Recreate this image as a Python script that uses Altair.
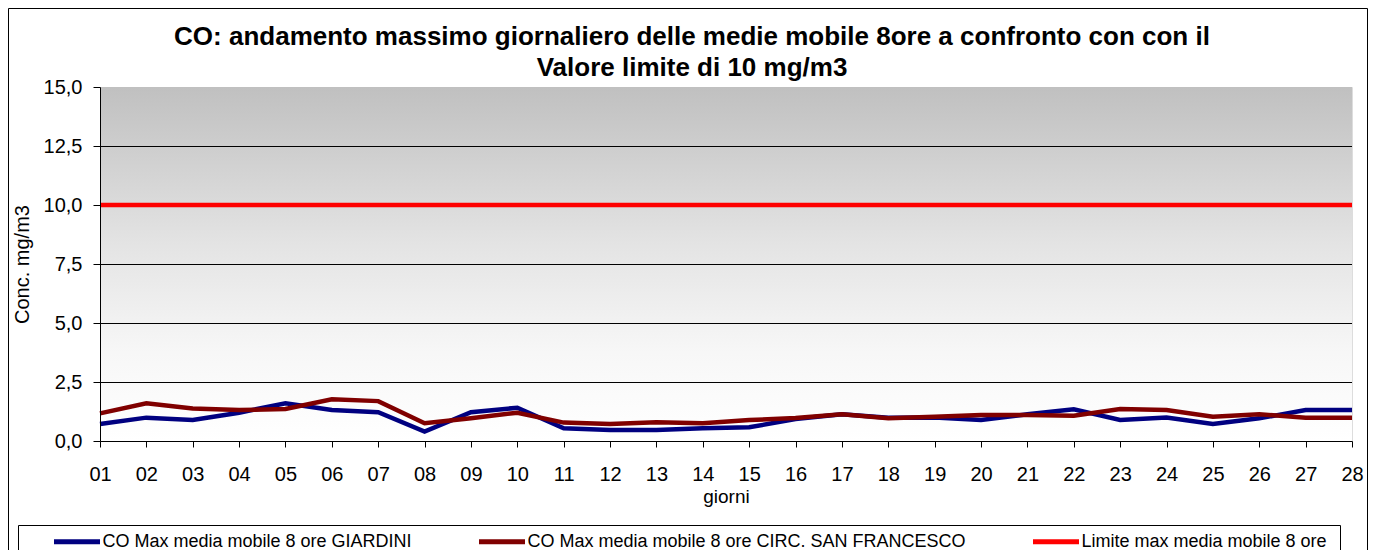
import altair as alt
import pandas as pd

# ---- data ----
DAYS = ["01", "02", "03", "04", "05", "06", "07", "08", "09", "10",
        "11", "12", "13", "14", "15", "16", "17", "18", "19", "20",
        "21", "22", "23", "24", "25", "26", "27", "28"]

GIARDINI = [0.72, 0.99, 0.89, 1.20, 1.60, 1.31, 1.22, 0.40, 1.22, 1.41,
            0.54, 0.47, 0.47, 0.54, 0.58, 0.93, 1.13, 0.99, 1.00, 0.89,
            1.13, 1.34, 0.89, 1.00, 0.72, 0.96, 1.31, 1.31]

SAN_FRANCESCO = [1.17, 1.60, 1.38, 1.31, 1.36, 1.77, 1.69, 0.75, 0.96, 1.20,
                 0.78, 0.72, 0.79, 0.75, 0.89, 0.97, 1.13, 0.96, 1.03, 1.10,
                 1.10, 1.07, 1.36, 1.31, 1.03, 1.13, 0.99, 0.99]

LIMITE = [10.0, 10.0, 10.0, 10.0, 10.0, 10.0, 10.0, 10.0, 10.0, 10.0,
          10.0, 10.0, 10.0, 10.0, 10.0, 10.0, 10.0, 10.0, 10.0, 10.0,
          10.0, 10.0, 10.0, 10.0, 10.0, 10.0, 10.0, 10.0]

SERIES = ["CO Max media mobile 8 ore GIARDINI",
          "CO Max media mobile 8 ore CIRC. SAN FRANCESCO",
          "Limite max media mobile 8 ore"]
COLORS = ["#000080", "#800000", "#FF0000"]

Y_TICKS = [0.0, 2.5, 5.0, 7.5, 10.0, 12.5, 15.0]
GRID = [2.5, 5.0, 7.5, 12.5]

TITLE_1 = "CO: andamento massimo giornaliero delle medie mobile 8ore a confronto con con il"
TITLE_2 = "Valore limite di 10 mg/m3"

# ---- long table ----
rows = []
for k, (name, vals) in enumerate(zip(SERIES, [GIARDINI, SAN_FRANCESCO, LIMITE])):
    for d, v in zip(DAYS, vals):
        rows.append({"giorno": d, "serie": name, "valore": v, "k": k})
df = pd.DataFrame(rows)

W, H = 1252, 354
PAD_L, PAD_T, PAD_R, PAD_B = 92, 79, 17, 109
BOTTOM = H + PAD_B  # svg bottom relative to plot origin

FONT = "Liberation Sans, Arial, sans-serif"

yscale = alt.Scale(domain=[0, 15], nice=False, zero=True)
xscale = alt.Scale(type="point", padding=0)

y_axis = alt.Axis(title="Conc. mg/m3", values=Y_TICKS,
                  labelExpr="replace(format(datum.value, '.1f'), '.', ',')",
                  tickSize=7, labelPadding=11, labelFontSize=20,
                  titleFontSize=20, titleFontWeight="normal",
                  titleX=-78, titleY=177, titleAngle=270, titleAlign="center",
                  titleBaseline="middle", domainColor="black", tickColor="black",
                  domainWidth=1, tickWidth=1,
                  labelColor="black", titleColor="black", grid=False, zindex=1,
                  labelFont=FONT, titleFont=FONT)

x_axis = alt.Axis(title="giorni", labelAngle=0, tickSize=6, labelPadding=17,
                  labelFontSize=20, titleFontSize=19, titleFontWeight="normal",
                  titlePadding=3, domainColor="black", tickColor="black",
                  domainWidth=1, tickWidth=1,
                  labelColor="black", titleColor="black", grid=False, zindex=1,
                  labelFont=FONT, titleFont=FONT)

# background gradient of the plot area
bg = alt.Chart(pd.DataFrame({"lo": [0.0], "hi": [15.0]})).mark_rect(
    color=alt.Gradient(
        gradient="linear",
        stops=[alt.GradientStop(color="#C0C0C0", offset=0),
               alt.GradientStop(color="#E4E4E4", offset=0.45),
               alt.GradientStop(color="#F7F7F7", offset=0.75),
               alt.GradientStop(color="#FFFFFF", offset=1)],
        x1=0, x2=0, y1=0, y2=1),
).encode(
    x=alt.value(0), x2=alt.value(W),
    y=alt.Y("hi:Q", scale=yscale, axis=y_axis), y2="lo:Q",
)

grid = alt.Chart(pd.DataFrame({"g": GRID})).mark_rule(
    color="black", strokeWidth=1, yOffset=0.5).encode(
    y=alt.Y("g:Q", scale=yscale, axis=y_axis),
    x=alt.value(0), x2=alt.value(W),
)

lines = alt.Chart(df).mark_line(strokeWidth=4.5).encode(
    x=alt.X("giorno:O", scale=xscale, sort=DAYS, axis=x_axis),
    y=alt.Y("valore:Q", scale=yscale, axis=y_axis),
    color=alt.Color("serie:N", scale=alt.Scale(domain=SERIES, range=COLORS),
                    legend=alt.Legend(title=None, orient="none", legendX=-48.5, legendY=429,
                                      direction="horizontal", symbolType="stroke",
                                      symbolSize=2116, symbolStrokeWidth=5,
                                      labelFontSize=18, labelFont=FONT, labelColor="black",
                                      columnPadding=56, labelOffset=0, labelLimit=0,
                                      padding=0)),
    order=alt.Order("k:Q"),
    detail="serie:N",
)

def title_line(text, yv):
    return alt.Chart(pd.DataFrame({"t": [text]})).mark_text(
        font=FONT, fontSize=26, fontWeight="bold", color="black",
        align="center", baseline="middle",
    ).encode(text="t:N", x=alt.value(592), y=alt.value(yv))

titles = [title_line(TITLE_1, -50), title_line(TITLE_2, -19)]

def vrule(xv, y0, y1):
    return alt.Chart(pd.DataFrame({"a": [0]})).mark_rule(color="black", strokeWidth=1).encode(
        x=alt.value(xv), y=alt.value(y0), y2=alt.value(y1))

def hrule(x0, x1, yv):
    return alt.Chart(pd.DataFrame({"a": [0]})).mark_rule(color="black", strokeWidth=1).encode(
        x=alt.value(x0), x2=alt.value(x1), y=alt.value(yv))

# outer chart frame (left, top, right)
frame = [vrule(-91.5, -78.5, BOTTOM), hrule(-91.5, 1267.5, -78.5), vrule(1267.5, -78.5, BOTTOM)]
# legend box (left, top, right)
lbox = [vrule(-81.5, 438.5, BOTTOM), hrule(-81.5, 1240.5, 438.5), vrule(1240.5, 438.5, BOTTOM)]

chart = alt.layer(bg, grid, lines, *titles, *frame, *lbox).properties(
    width=W, height=H,
    padding={"left": PAD_L, "top": PAD_T, "right": PAD_R, "bottom": PAD_B},
    autosize=alt.AutoSizeParams(type="none"),
).configure_view(stroke="#808080", strokeWidth=1).configure(background="white")

chart.save("out.html", embed_options={"renderer": "svg", "actions": False})
